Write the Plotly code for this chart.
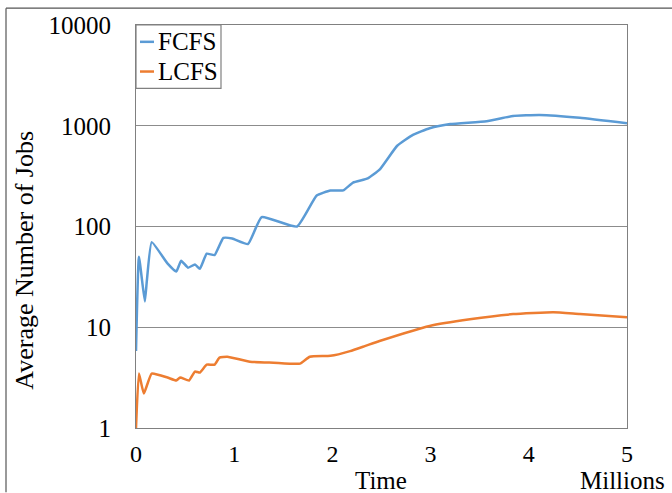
import plotly.graph_objects as go

# Data (time in millions, average number of jobs)
fcfs_t = [0.0, 0.03, 0.09, 0.11, 0.16, 0.32, 0.41, 0.46, 0.53, 0.60, 0.65, 0.72, 0.80, 0.89, 0.98,
          1.14, 1.28, 1.64, 1.84, 1.98, 2.11, 2.21, 2.36, 2.48, 2.66, 2.82, 2.99, 3.20, 3.57,
          3.84, 4.11, 4.52, 5.0]
fcfs_v = [5.8, 50, 18, 28.5, 70, 43, 35.7, 45.7, 39, 42, 38, 53.7, 52, 77, 76,
          67, 124, 100, 203, 228, 228, 273, 300, 366, 633, 810, 945, 1040, 1110,
          1250, 1280, 1200, 1060]

lcfs_t = [0.0, 0.03, 0.08, 0.16, 0.32, 0.41, 0.45, 0.54, 0.60, 0.65, 0.72, 0.80, 0.85, 0.93,
          1.16, 1.40, 1.67, 1.77, 1.98, 2.18, 2.33, 2.48, 2.99, 3.40, 3.84, 4.25, 4.52, 5.0]
lcfs_v = [1.0, 3.47, 2.2, 3.47, 3.17, 2.96, 3.17, 2.96, 3.63, 3.55, 4.25, 4.25, 5.0, 5.1,
          4.55, 4.45, 4.35, 5.1, 5.2, 5.8, 6.5, 7.3, 10.3, 12.0, 13.5, 14.1, 13.5, 12.6]

x_ticks = [0, 1, 2, 3, 4, 5]
y_ticks = [1, 10, 100, 1000, 10000]
y_tick_text = ["1", "10", "100", "1000", "10000"]

series_names = ["FCFS", "LCFS"]
colors = ["#5B9BD5", "#ED7D31"]

FONT = "Liberation Serif, Times New Roman, serif"

fig = go.Figure()
fig.add_trace(go.Scatter(x=fcfs_t, y=fcfs_v, mode="lines", name=series_names[0],
                         line=dict(color=colors[0], width=2.5, shape="spline", smoothing=0.4),
                         showlegend=False))
fig.add_trace(go.Scatter(x=lcfs_t, y=lcfs_v, mode="lines", name=series_names[1],
                         line=dict(color=colors[1], width=2.5, shape="spline", smoothing=0.4),
                         showlegend=False))

W, H = 672, 493
L, R, T, B = 136, 45, 21, 65
pw, ph = W - L - R, H - T - B


def px(xp):
    return (xp - L) / pw


def py(yp):
    return (H - B - yp) / ph


fig.update_layout(
    width=W, height=H,
    margin=dict(l=L, r=R, t=T, b=B),
    paper_bgcolor="white", plot_bgcolor="white",
    font=dict(family=FONT, size=24, color="black"),
    xaxis=dict(range=[0, 5], tickvals=x_ticks, showgrid=False, zeroline=False,
               showline=True, linecolor="#808080", linewidth=1.2, mirror=True,
               ticks="", ticklabelstandoff=4,
               tickfont=dict(family=FONT, size=24, color="black")),
    yaxis=dict(type="log", range=[0, 4], tickvals=y_ticks, ticktext=y_tick_text,
               showgrid=True, gridcolor="#8c8c8c", gridwidth=1, zeroline=False,
               showline=True, linecolor="#808080", linewidth=1.2, mirror=True,
               ticks="", ticklabelstandoff=19,
               tickfont=dict(family=FONT, size=25, color="black")),
    showlegend=False,
)

annotations = [
    dict(text="Time", x=px(381), y=py(481), xref="paper", yref="paper",
         xanchor="center", yanchor="middle",
         showarrow=False, font=dict(family=FONT, size=25, color="black")),
    dict(text="Millions", x=px(622), y=py(481), xref="paper", yref="paper",
         xanchor="center", yanchor="middle",
         showarrow=False, font=dict(family=FONT, size=25, color="black")),
    dict(text="Average Number of Jobs", x=px(25), y=py(259), xref="paper", yref="paper",
         xanchor="center", yanchor="middle",
         showarrow=False, textangle=-90, font=dict(family=FONT, size=26, color="black")),
]

# Manual legend
legend_rows = [38, 68]
shapes = [
    dict(type="rect", xref="paper", yref="paper", x0=px(136), x1=px(221), y0=py(85), y1=py(21),
         line=dict(color="#808080", width=1.2), fillcolor="white", layer="above"),
    # outer frame
    dict(type="line", xref="paper", yref="paper", x0=px(6), x1=px(672), y0=py(4), y1=py(4),
         line=dict(color="#555555", width=1.2)),
    dict(type="line", xref="paper", yref="paper", x0=px(6), x1=px(6), y0=py(4), y1=py(493),
         line=dict(color="#555555", width=1.2)),
]
for name, col, ry in zip(series_names, colors, legend_rows):
    shapes.append(dict(type="line", xref="paper", yref="paper", x0=px(140), x1=px(154),
                       y0=py(ry), y1=py(ry), line=dict(color=col, width=2.5), layer="above"))
    annotations.append(dict(text=name, x=px(156), y=py(ry), xref="paper", yref="paper",
                            xanchor="left", yanchor="middle", showarrow=False,
                            font=dict(family=FONT, size=25, color="black")))

fig.update_layout(annotations=annotations, shapes=shapes)
fig.write_html("out.html")
